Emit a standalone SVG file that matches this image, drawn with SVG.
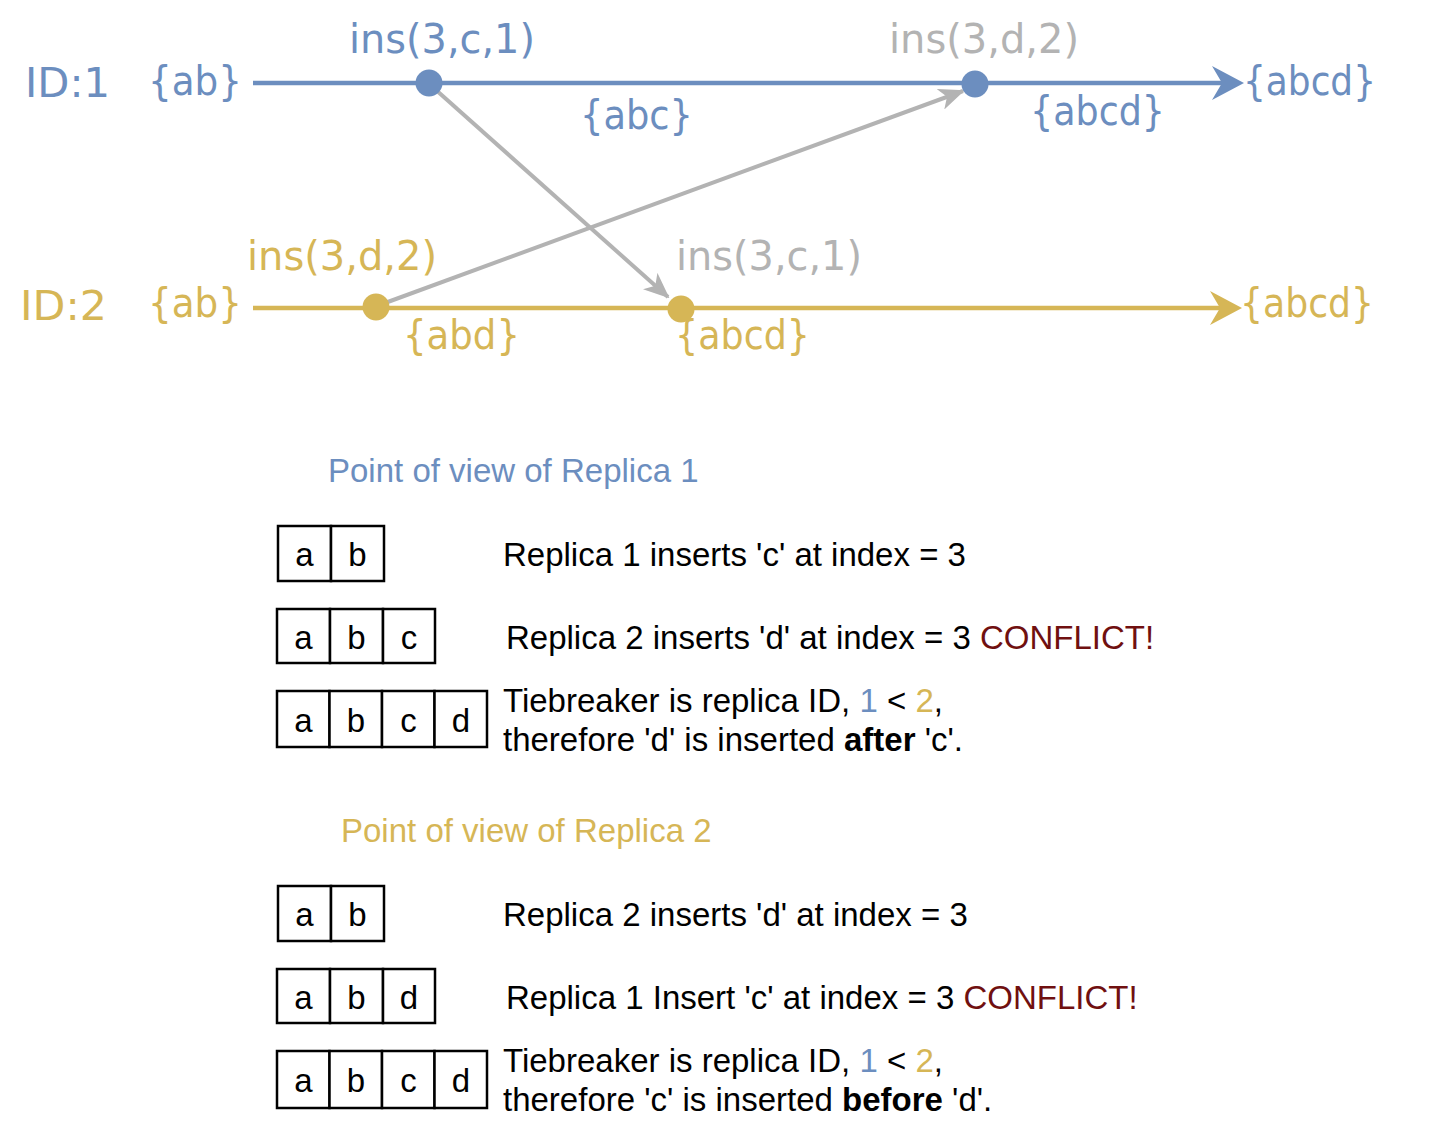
<svg xmlns="http://www.w3.org/2000/svg" width="1432" height="1138" viewBox="0 0 1432 1138">
<style>
  .v { font-family: "DejaVu Sans", Verdana, sans-serif; font-size: 40px; }
  .h { font-family: "Liberation Sans", Arial, Helvetica, sans-serif; font-size: 33px; }
  .blue { fill: #6C8EBF; }
  .gold { fill: #D6B656; }
  .gray { fill: #B3B3B3; }
  .blk { fill: #000000; }
  .red { fill: #701010; }
  .cell { fill: #FFFFFF; stroke: #000000; stroke-width: 2.5; }
  .ctr { text-anchor: middle; }
  .msg { stroke: #B3B3B3; stroke-width: 4; fill: none; }
</style>
<defs>
  <marker id="arrGray" viewBox="0 0 26 22" refX="24" refY="11" markerWidth="26" markerHeight="22" markerUnits="userSpaceOnUse" orient="auto">
    <path d="M0,0 L26,11 L0,22 L7,11 Z" fill="#B3B3B3"/>
  </marker>
  <marker id="arrBlue" viewBox="0 0 32 34" refX="15" refY="17" markerWidth="32" markerHeight="34" markerUnits="userSpaceOnUse" orient="auto">
    <path d="M0,0 L32,17 L0,34 L10,17 Z" fill="#6C8EBF"/>
  </marker>
  <marker id="arrGold" viewBox="0 0 32 34" refX="15" refY="17" markerWidth="32" markerHeight="34" markerUnits="userSpaceOnUse" orient="auto">
    <path d="M0,0 L32,17 L0,34 L10,17 Z" fill="#D6B656"/>
  </marker>
</defs>

<g id="connectors">
  <line x1="253" y1="83" x2="1227" y2="83" stroke="#6C8EBF" stroke-width="4.5" marker-end="url(#arrBlue)"/>
  <line x1="253" y1="308" x2="1225" y2="308" stroke="#D6B656" stroke-width="4.5" marker-end="url(#arrGold)"/>
  <line class="msg" x1="436" y1="90" x2="668" y2="297" marker-end="url(#arrGray)"/>
  <line class="msg" x1="385" y1="303" x2="963" y2="91" marker-end="url(#arrGray)"/>
</g>

<g id="replica1-timeline">
  <text class="v blue" x="25" y="97" textLength="85" lengthAdjust="spacingAndGlyphs">ID:1</text>
  <text class="v blue" x="148" y="95" textLength="94" lengthAdjust="spacingAndGlyphs">{ab}</text>
  <text class="v blue" x="1243" y="95" textLength="133" lengthAdjust="spacingAndGlyphs">{abcd}</text>
</g>
<g id="r1-event-insc">
  <circle cx="429" cy="83" r="13.5" fill="#6C8EBF"/>
  <text class="v blue" x="349" y="53" textLength="186" lengthAdjust="spacingAndGlyphs">ins(3,c,1)</text>
  <text class="v blue" x="580" y="129" textLength="113" lengthAdjust="spacingAndGlyphs">{abc}</text>
</g>
<g id="r1-event-recvd">
  <circle cx="975" cy="84" r="13.5" fill="#6C8EBF"/>
  <text class="v gray" x="889" y="53" textLength="190" lengthAdjust="spacingAndGlyphs">ins(3,d,2)</text>
  <text class="v blue" x="1030" y="125" textLength="135" lengthAdjust="spacingAndGlyphs">{abcd}</text>
</g>

<g id="replica2-timeline">
  <text class="v gold" x="20" y="320" textLength="87" lengthAdjust="spacingAndGlyphs">ID:2</text>
  <text class="v gold" x="148" y="317" textLength="94" lengthAdjust="spacingAndGlyphs">{ab}</text>
  <text class="v gold" x="1240" y="317" textLength="134" lengthAdjust="spacingAndGlyphs">{abcd}</text>
</g>
<g id="r2-event-insd">
  <circle cx="376" cy="307" r="13.5" fill="#D6B656"/>
  <text class="v gold" x="247" y="270" textLength="190" lengthAdjust="spacingAndGlyphs">ins(3,d,2)</text>
  <text class="v gold" x="403" y="349" textLength="117" lengthAdjust="spacingAndGlyphs">{abd}</text>
</g>
<g id="r2-event-recvc">
  <circle cx="681" cy="309" r="13.5" fill="#D6B656"/>
  <text class="v gray" x="676" y="270" textLength="186" lengthAdjust="spacingAndGlyphs">ins(3,c,1)</text>
  <text class="v gold" x="675" y="349" textLength="135" lengthAdjust="spacingAndGlyphs">{abcd}</text>
</g>

<g id="pov1-title">
  <text class="h blue" x="328" y="482">Point of view of Replica 1</text>
</g>
<g id="pov1-row1">
  <rect class="cell" x="278" y="526" width="53" height="55"/>
  <rect class="cell" x="331" y="526" width="53" height="55"/>
  <text class="h blk ctr" x="304.5" y="566">a</text>
  <text class="h blk ctr" x="357.5" y="566">b</text>
  <text class="h blk" x="503" y="566">Replica 1 inserts 'c' at index = 3</text>
</g>
<g id="pov1-row2">
  <rect class="cell" x="277" y="609" width="53" height="54"/>
  <rect class="cell" x="330" y="609" width="53" height="54"/>
  <rect class="cell" x="383" y="609" width="52" height="54"/>
  <text class="h blk ctr" x="303.5" y="649">a</text>
  <text class="h blk ctr" x="356.5" y="649">b</text>
  <text class="h blk ctr" x="409" y="649">c</text>
  <text class="h blk" x="506" y="649">Replica 2 inserts 'd' at index = 3 <tspan class="red">CONFLICT!</tspan></text>
</g>
<g id="pov1-row3">
  <rect class="cell" x="277" y="691" width="52.5" height="56"/>
  <rect class="cell" x="329.5" y="691" width="52.5" height="56"/>
  <rect class="cell" x="382" y="691" width="52.5" height="56"/>
  <rect class="cell" x="434.5" y="691" width="52.5" height="56"/>
  <text class="h blk ctr" x="303.5" y="732">a</text>
  <text class="h blk ctr" x="356" y="732">b</text>
  <text class="h blk ctr" x="408.5" y="732">c</text>
  <text class="h blk ctr" x="461" y="732">d</text>
  <text class="h blk" x="503" y="712">Tiebreaker is replica ID, <tspan class="blue">1</tspan> &lt; <tspan class="gold">2</tspan>,</text>
  <text class="h blk" x="503" y="751">therefore 'd' is inserted <tspan font-weight="bold">after</tspan> 'c'.</text>
</g>

<g id="pov2-title">
  <text class="h gold" x="341" y="842">Point of view of Replica 2</text>
</g>
<g id="pov2-row1">
  <rect class="cell" x="278" y="886" width="53" height="55"/>
  <rect class="cell" x="331" y="886" width="53" height="55"/>
  <text class="h blk ctr" x="304.5" y="926">a</text>
  <text class="h blk ctr" x="357.5" y="926">b</text>
  <text class="h blk" x="503" y="926">Replica 2 inserts 'd' at index = 3</text>
</g>
<g id="pov2-row2">
  <rect class="cell" x="277" y="969" width="53" height="54"/>
  <rect class="cell" x="330" y="969" width="53" height="54"/>
  <rect class="cell" x="383" y="969" width="52" height="54"/>
  <text class="h blk ctr" x="303.5" y="1009">a</text>
  <text class="h blk ctr" x="356.5" y="1009">b</text>
  <text class="h blk ctr" x="409" y="1009">d</text>
  <text class="h blk" x="506" y="1009">Replica 1 Insert 'c' at index = 3 <tspan class="red">CONFLICT!</tspan></text>
</g>
<g id="pov2-row3">
  <rect class="cell" x="277" y="1051" width="52.5" height="57"/>
  <rect class="cell" x="329.5" y="1051" width="52.5" height="57"/>
  <rect class="cell" x="382" y="1051" width="52.5" height="57"/>
  <rect class="cell" x="434.5" y="1051" width="52.5" height="57"/>
  <text class="h blk ctr" x="303.5" y="1092">a</text>
  <text class="h blk ctr" x="356" y="1092">b</text>
  <text class="h blk ctr" x="408.5" y="1092">c</text>
  <text class="h blk ctr" x="461" y="1092">d</text>
  <text class="h blk" x="503" y="1072">Tiebreaker is replica ID, <tspan class="blue">1</tspan> &lt; <tspan class="gold">2</tspan>,</text>
  <text class="h blk" x="503" y="1111">therefore 'c' is inserted <tspan font-weight="bold">before</tspan> 'd'.</text>
</g>
</svg>
